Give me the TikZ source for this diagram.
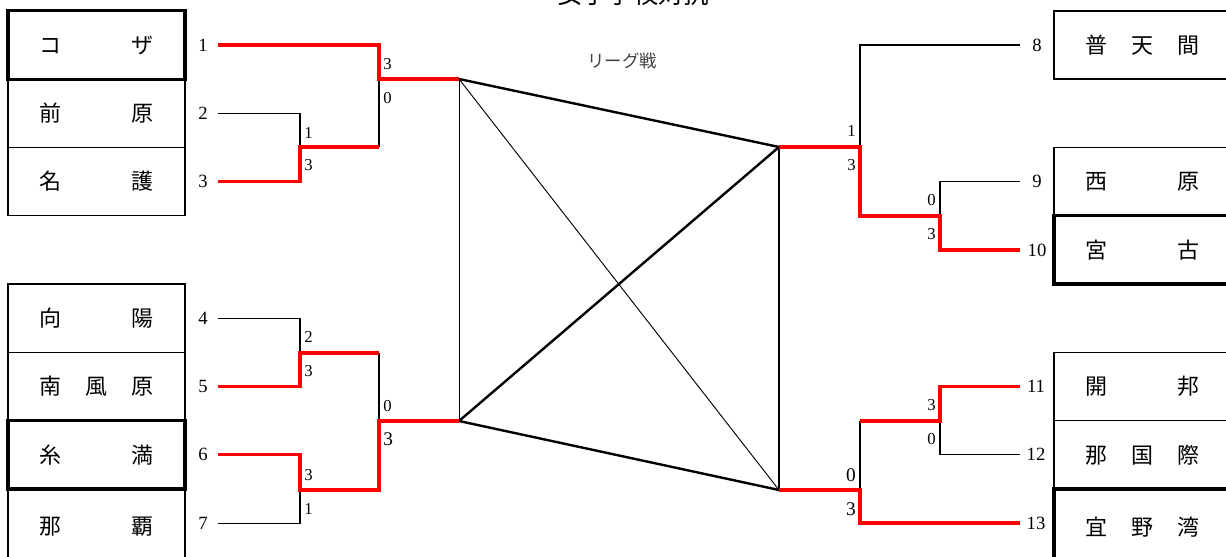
\documentclass[tikz,border=0pt]{standalone}
\usepackage{fontspec}
\setmainfont{Liberation Serif}
\newfontfamily\jp{Noto Sans CJK JP}
\newcommand{\tname}[1]{\makebox[86pt][s]{#1}}

\begin{document}
\begin{tikzpicture}[x=0.75pt,y=-0.75pt,
  team/.style={draw, line width=1pt, minimum width=132.75pt, minimum height=51.2pt, inner sep=0pt, font=\jp\fontsize{16.5}{18}\selectfont},
  seed/.style={team, line width=2.4pt},
  lastrow/.style={minimum height=57.2pt},
  num/.style={font=\fontsize{14}{16}\selectfont, inner sep=0pt},
  score/.style={font=\fontsize{12.5}{14}\selectfont, inner sep=0pt},
  bigscore/.style={font=\fontsize{14.5}{16}\selectfont, inner sep=0pt},
  lose/.style={black, line width=0.9pt},
  win/.style={red, line width=2.5pt},
  league/.style={black, line width=1.8pt},
  cross/.style={black, line width=0.7pt}]

\useasboundingbox (0,0) rectangle (1226,556);

\node[font=\jp\fontsize{19}{20}\selectfont] (title) at (633,-6) {女子学校対抗};
\node[font=\jp\fontsize{13}{14}\selectfont, text=black!75] (lglabel) at (622,61) {リーグ戦};

% left teams
\node[team] (maehara) at (96.5,113.3) {\tname{前\hfill 原}};
\node[team] (nago) at (96.5,181.6) {\tname{名\hfill 護}};
\node[team] (koyo) at (96.5,318.2) {\tname{向\hfill 陽}};
\node[team] (haebaru) at (96.5,386.5) {\tname{南\hfill 風\hfill 原}};
\node[team, lastrow] (naha) at (96.5,527.1) {\tname{那\hfill 覇}};
\node[seed] (koza) at (96.5,45) {\tname{コ\hfill ザ}};
\node[seed] (itoman) at (96.5,454.8) {\tname{糸\hfill 満}};

% right teams
\node[team] (futenma) at (1142.5,45) {\tname{普\hfill 天\hfill 間}};
\node[team] (nishihara) at (1142.5,181.6) {\tname{西\hfill 原}};
\node[team] (kaiho) at (1142.5,386.5) {\tname{開\hfill 邦}};
\node[team] (nakoku) at (1142.5,454.8) {\tname{那\hfill 国\hfill 際}};
\node[seed] (miyako) at (1142.5,249.9) {\tname{宮\hfill 古}};
\node[seed, lastrow] (ginowan) at (1142.5,527.1) {\tname{宜\hfill 野\hfill 湾}};

\node[num] (n1) at (203,45) {1};
\node[num] (n2) at (203,113.3) {2};
\node[num] (n3) at (203,181.6) {3};
\node[num] (n4) at (203,318.2) {4};
\node[num] (n5) at (203,386.5) {5};
\node[num] (n6) at (203,454.8) {6};
\node[num] (n7) at (203,523.1) {7};
\node[num] (n8) at (1037,45) {8};
\node[num] (n9) at (1037,181.6) {9};
\node[num] (n10) at (1037,249.9) {10};
\node[num] (n11) at (1036,386.5) {11};
\node[num] (n12) at (1036,454.8) {12};
\node[num] (n13) at (1036,523.1) {13};

\coordinate (le) at (218,0);
\coordinate (re) at (1020,0);
\coordinate (j23) at (300,147);
\coordinate (j45) at (300,353);
\coordinate (j67) at (300,490);
\coordinate (k1) at (379,79);
\coordinate (k2) at (379,421);
\coordinate (lgA) at (459,79);
\coordinate (lgB) at (459,421);
\coordinate (lgC) at (779,147);
\coordinate (lgD) at (779,490);
\coordinate (k3) at (860,147);
\coordinate (k4) at (860,490);
\coordinate (j910) at (940,216);
\coordinate (j1112) at (940,421);

% league
\draw[cross] (lgA) -- (lgB);
\draw[cross] (lgA) -- (lgD);
\draw[league] (lgA) -- (lgC);
\draw[league] (lgB) -- (lgC);
\draw[league] (lgB) -- (lgD);
\draw[league] (lgC) -- (lgD);

% losers
\draw[lose] (le |- n2) -| (j23);
\draw[lose] (j23 -| k1) -- (k1);
\draw[lose] (le |- n4) -| (j45);
\draw[lose] (le |- n7) -| (j67);
\draw[lose] (j45 -| k2) -- (k2);
\draw[lose] (re |- n8) -| (k3);
\draw[lose] (re |- n9) -| (j910);
\draw[lose] (re |- n12) -| (j1112);
\draw[lose] (j1112 -| k4) -- (k4);

% winners
\draw[win] (le |- n3) -| (j23) -- (j23 -| k1);
\draw[win] (le |- n1) -| (k1) -- (lgA);
\draw[win] (le |- n5) -| (j45) -- (j45 -| k2);
\draw[win] (le |- n6) -| (j67) -- (j67 -| k2) -- (k2) -- (lgB);
\draw[win] (re |- n10) -| (j910) -- (j910 -| k3) -- (k3) -- (lgC);
\draw[win] (re |- n11) -| (j1112) -- (j1112 -| k4);
\draw[win] (re |- n13) -| (k4) -- (lgD);

% scores
\node[score, anchor=west] (s1a) at (383,64) {3};
\node[score, anchor=west] (s1b) at (383,98.5) {0};
\node[score, anchor=west] (s2a) at (304,132.5) {1};
\node[score, anchor=west] (s2b) at (304,165.5) {3};
\node[score, anchor=west] (s3a) at (304,337) {2};
\node[score, anchor=west] (s3b) at (304,371.5) {3};
\node[score, anchor=west] (s4a) at (304,475) {3};
\node[score, anchor=west] (s4b) at (304,508.5) {1};
\node[score, anchor=west] (s5a) at (383,406) {0};
\node[bigscore, anchor=west] (s5b) at (383,439) {3};
\node[score, anchor=east] (s6a) at (856,131) {1};
\node[score, anchor=east] (s6b) at (856,165.5) {3};
\node[score, anchor=east] (s7a) at (936,200) {0};
\node[score, anchor=east] (s7b) at (936,234.5) {3};
\node[score, anchor=east] (s8a) at (936,405) {3};
\node[score, anchor=east] (s8b) at (936,439.5) {0};
\node[bigscore, anchor=east] (s9a) at (856,475) {0};
\node[bigscore, anchor=east] (s9b) at (856,509) {3};
\end{tikzpicture}
\end{document}
